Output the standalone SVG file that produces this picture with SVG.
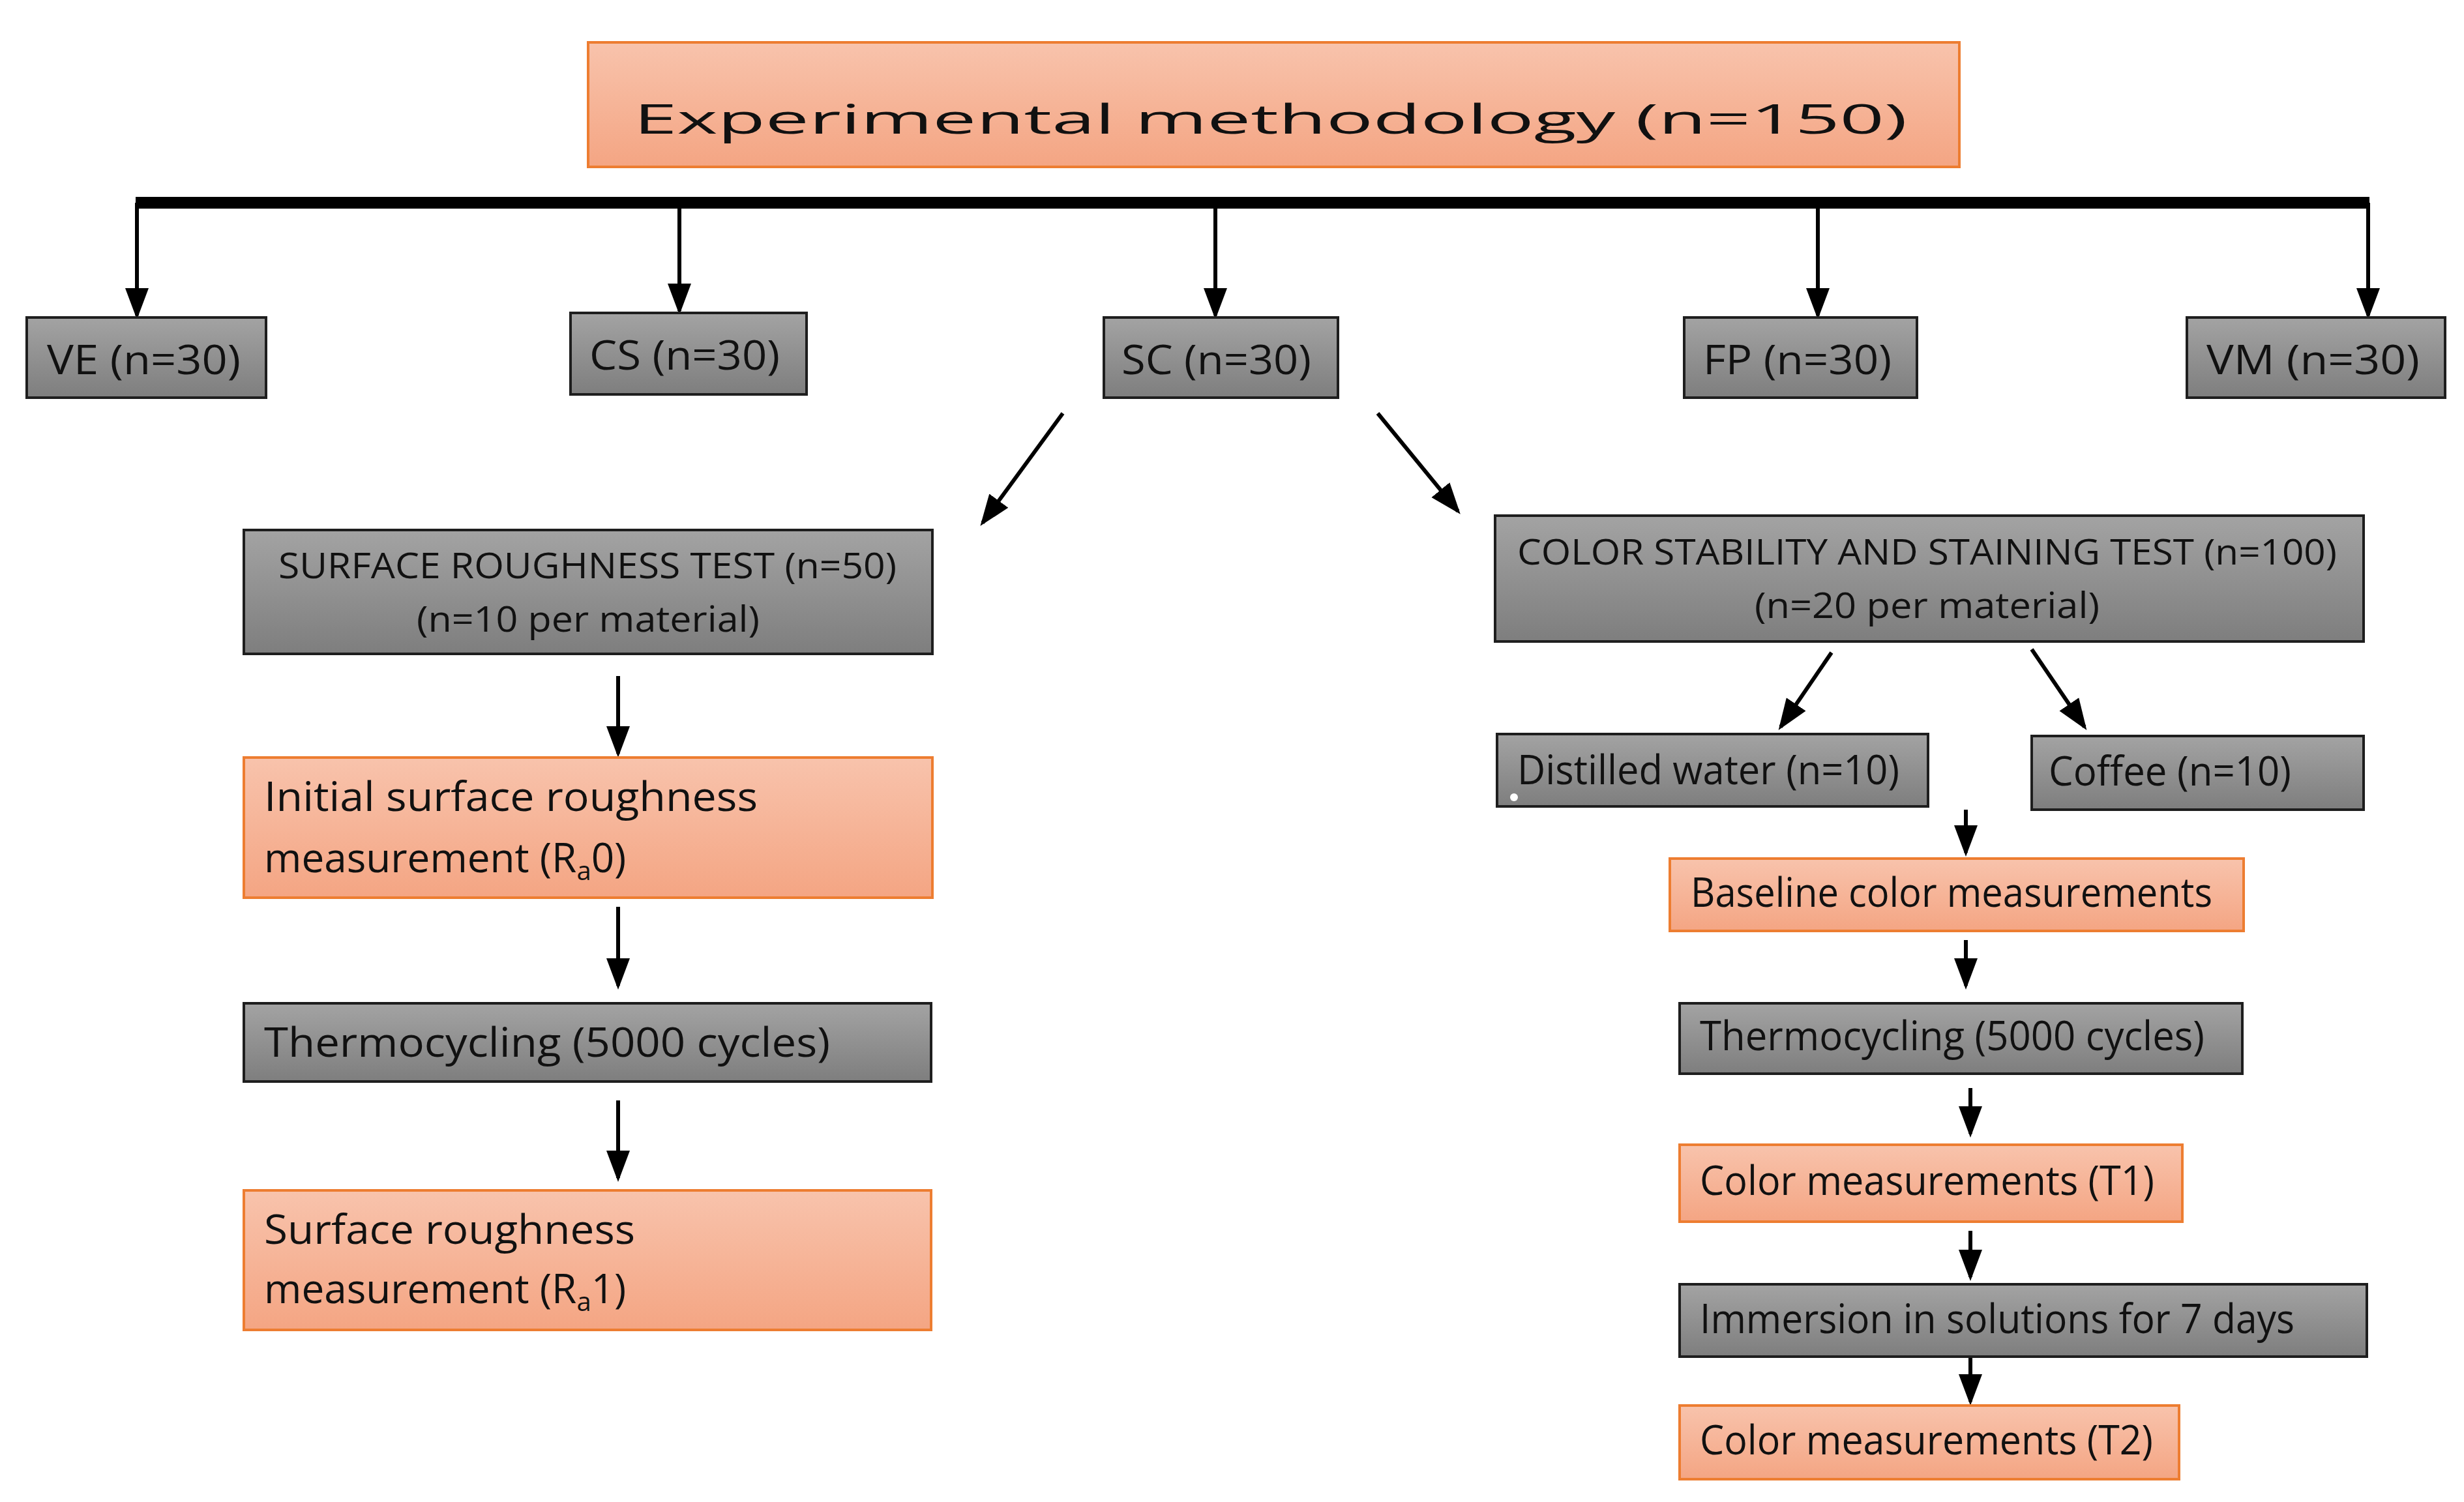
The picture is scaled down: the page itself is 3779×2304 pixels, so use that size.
<svg xmlns="http://www.w3.org/2000/svg" width="3779" height="2304" viewBox="0 0 3779 2304">
<defs>
<linearGradient id="gg" x1="0" y1="0" x2="0" y2="1"><stop offset="0" stop-color="#a3a3a3"/><stop offset="1" stop-color="#7e7e7e"/></linearGradient>
<linearGradient id="og" x1="0" y1="0" x2="0" y2="1"><stop offset="0" stop-color="#f8c3ac"/><stop offset="1" stop-color="#f4a583"/></linearGradient>
<marker id="ah" markerWidth="8" markerHeight="8" refX="7" refY="4" orient="auto" markerUnits="strokeWidth"><path d="M0,1 L8,4 L0,7 Z" fill="#000"/></marker>
</defs>
<style>
.g{fill:url(#gg);stroke:#1e1e1e;stroke-width:4}
.o{fill:url(#og);stroke:#ed7d31;stroke-width:4}
text{font-family:"Open Sans","Noto Sans",sans-serif;fill:#111;font-size:62px}
.s{font-size:54px}
.c{stroke:#000;stroke-width:6;fill:none;marker-end:url(#ah)}
</style>
<rect width="3779" height="2304" fill="#fff"/>
<g id="title"><rect class="o" x="902" y="65" width="2103" height="191"/><text x="972" y="205" font-size="140" textLength="1953" lengthAdjust="spacingAndGlyphs">Experimental methodology (n=150)</text></g>
<g id="connectors">
<line x1="208" y1="311" x2="3634" y2="311" stroke="#000" stroke-width="18"/>
<line class="c" x1="210" y1="311" x2="210" y2="484"/>
<line class="c" x1="1042" y1="311" x2="1042" y2="477"/>
<line class="c" x1="1864" y1="311" x2="1864" y2="484"/>
<line class="c" x1="2788" y1="311" x2="2788" y2="484"/>
<line class="c" x1="3632" y1="311" x2="3632" y2="484"/>
<line class="c" x1="1630" y1="634" x2="1507" y2="802"/>
<line class="c" x1="2113" y1="634" x2="2236" y2="784"/>
<line class="c" x1="948" y1="1037" x2="948" y2="1156"/>
<line class="c" x1="948" y1="1391" x2="948" y2="1512"/>
<line class="c" x1="948" y1="1688" x2="948" y2="1807"/>
<line class="c" x1="2809" y1="1001" x2="2731" y2="1115"/>
<line class="c" x1="3116" y1="996" x2="3197" y2="1115"/>
<line class="c" x1="3015" y1="1242" x2="3015" y2="1308"/>
<line class="c" x1="3015" y1="1442" x2="3015" y2="1512"/>
<line class="c" x1="3022" y1="1669" x2="3022" y2="1739"/>
<line class="c" x1="3022" y1="1888" x2="3022" y2="1959"/>
<line class="c" x1="3022" y1="2081" x2="3022" y2="2150"/>
</g>
<g id="ve"><rect class="g" x="41" y="487" width="367" height="123"/><text x="72" y="574" textLength="297" lengthAdjust="spacingAndGlyphs">VE (n=30)</text></g>
<g id="cs"><rect class="g" x="875" y="480" width="362" height="125"/><text x="904" y="567" textLength="292" lengthAdjust="spacingAndGlyphs">CS (n=30)</text></g>
<g id="sc"><rect class="g" x="1693" y="487" width="359" height="123"/><text x="1720" y="574" textLength="291" lengthAdjust="spacingAndGlyphs">SC (n=30)</text></g>
<g id="fp"><rect class="g" x="2583" y="487" width="357" height="123"/><text x="2612" y="574" textLength="289" lengthAdjust="spacingAndGlyphs">FP (n=30)</text></g>
<g id="vm"><rect class="g" x="3354" y="487" width="396" height="123"/><text x="3384" y="574" textLength="327" lengthAdjust="spacingAndGlyphs">VM (n=30)</text></g>
<g id="srt"><rect class="g" x="374" y="813" width="1056" height="190"/><text class="s" x="427" y="887" textLength="948" lengthAdjust="spacingAndGlyphs">SURFACE ROUGHNESS TEST (n=50)</text><text class="s" x="639" y="969" textLength="526" lengthAdjust="spacingAndGlyphs">(n=10 per material)</text></g>
<g id="cst"><rect class="g" x="2293" y="791" width="1332" height="193"/><text class="s" x="2327" y="866" textLength="1257" lengthAdjust="spacingAndGlyphs">COLOR STABILITY AND STAINING TEST (n=100)</text><text class="s" x="2691" y="948" textLength="529" lengthAdjust="spacingAndGlyphs">(n=20 per material)</text></g>
<g id="ra0"><rect class="o" x="374" y="1162" width="1056" height="215"/><text x="405" y="1244" textLength="757" lengthAdjust="spacingAndGlyphs">Initial surface roughness</text><text x="405" y="1338">measurement (R<tspan font-size="40" baseline-shift="-12">a</tspan>0)</text></g>
<g id="thl"><rect class="g" x="374" y="1539" width="1054" height="120"/><text x="405" y="1621" textLength="868" lengthAdjust="spacingAndGlyphs">Thermocycling (5000 cycles)</text></g>
<g id="ra1"><rect class="o" x="374" y="1826" width="1054" height="214"/><text x="405" y="1908" textLength="569" lengthAdjust="spacingAndGlyphs">Surface roughness</text><text x="405" y="1999">measurement (R<tspan font-size="40" baseline-shift="-12">a</tspan>1)</text></g>
<g id="dw"><rect class="g" x="2296" y="1126" width="661" height="111"/><text x="2327" y="1203" textLength="586" lengthAdjust="spacingAndGlyphs">Distilled water (n=10)</text><circle cx="2322" cy="1223" r="6" fill="#fff"/></g>
<g id="cof"><rect class="g" x="3116" y="1129" width="509" height="113"/><text x="3142" y="1205" textLength="372" lengthAdjust="spacingAndGlyphs">Coffee  (n=10)</text></g>
<g id="base"><rect class="o" x="2561" y="1317" width="880" height="111"/><text x="2593" y="1391" textLength="800" lengthAdjust="spacingAndGlyphs">Baseline color measurements</text></g>
<g id="thr"><rect class="g" x="2576" y="1539" width="863" height="108"/><text x="2607" y="1611" textLength="774" lengthAdjust="spacingAndGlyphs">Thermocycling (5000 cycles)</text></g>
<g id="t1"><rect class="o" x="2576" y="1756" width="771" height="118"/><text x="2607" y="1833" textLength="697" lengthAdjust="spacingAndGlyphs">Color measurements  (T1)</text></g>
<g id="imm"><rect class="g" x="2576" y="1970" width="1054" height="111"/><text x="2607" y="2045" textLength="912" lengthAdjust="spacingAndGlyphs">Immersion in solutions for 7 days</text></g>
<g id="t2"><rect class="o" x="2576" y="2156" width="766" height="113"/><text x="2607" y="2231" textLength="695" lengthAdjust="spacingAndGlyphs">Color measurements  (T2)</text></g>
</svg>
